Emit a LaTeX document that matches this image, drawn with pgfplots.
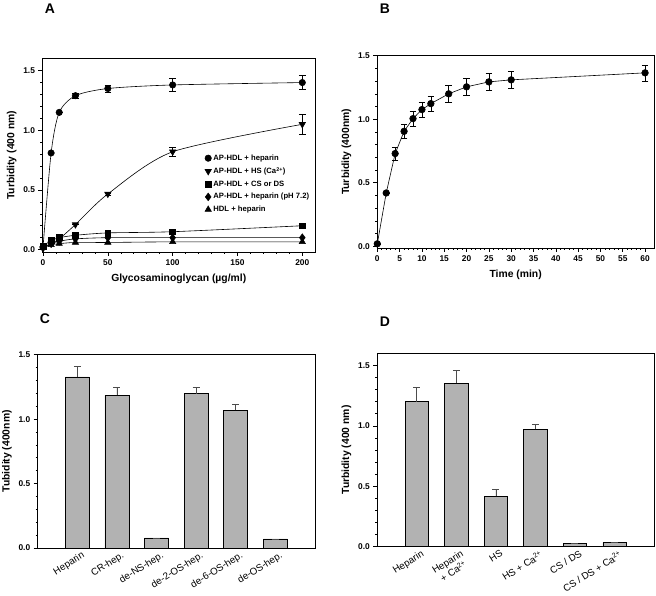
\documentclass[border=0pt]{standalone}
\usepackage{pgfplots}
\pgfplotsset{compat=1.18}
\usepackage{fontspec}
\setmainfont{Liberation Sans}
\definecolor{bargray}{RGB}{178,178,178}
\pgfplotsset{
  common/.style={
    scale only axis,
    axis line style={line width=0.7bp},
    tick style={line width=0.6bp, black},
    tick align=outside,
    major tick length=4bp,
    minor tick length=2bp,
    xtick pos=bottom, ytick pos=left,
    /pgf/number format/assume math mode=true,
    tick label style={font=\bfseries\fontsize{8.4}{10}\selectfont},
    label style={font=\bfseries\fontsize{10.4}{12}\selectfont},
    y tick label style={/pgf/number format/.cd, fixed, fixed zerofill, precision=1},
    minor y tick num=4,
  },
  errA/.style={error bars/.cd, y dir=both, y explicit,
    error mark options={mark size=3.3bp, line width=0.6bp, rotate=90, black},
    error bar style={line width=0.6bp, solid, black}},
  barax/.style={common, ybar, xmin=0, xmax=7, xtick={1,...,6},
    x tick style={draw=none},
    x tick label style={font=\fontsize{9.8}{9.8}\selectfont, rotate=32, anchor=north east, align=center, inner sep=1bp, xshift=5bp},
  },
}
\begin{document}
\begin{tikzpicture}
\useasboundingbox (0,0) rectangle (656bp,596bp);
% Panel A
\begin{axis}[common, at={(42.5bp,344bp)}, anchor=south west,
  width=272.5bp, height=193.3bp,
  xmin=-0.4, xmax=209.8, ymin=-0.02, ymax=1.6,
  xtick={0,50,100,150,200}, minor x tick num=4,
  ytick={0,0.5,1,1.5},
  xlabel={Glycosaminoglycan (µg/ml)}, ylabel={Turbidity (400 nm)},
  xlabel style={yshift=-2bp},
  legend style={at={(0.99,0.52)}, anchor=north east, draw=none, fill=none,
    font=\bfseries\fontsize{7.7}{9}\selectfont, row sep=1.6bp, inner sep=1bp},
  legend cell align=left,
  legend image code/.code={\draw[#1, only marks] plot coordinates {(0.2cm,0cm)};},
]
\addplot[black, line width=0.6bp, smooth, tension=0.45, mark=*, mark size=3.2bp, mark options={fill=black, solid}, errA] table[y error=e] {
x y e
0 0.02 0
6.25 0.81 0
12.5 1.15 0
25 1.29 0.02
50 1.35 0.03
100 1.38 0.055
200 1.40 0.06
};
\addlegendentry{AP-HDL + heparin}
\addplot[black, line width=0.6bp, smooth, tension=0.45, mark=triangle*, mark size=3.6bp, mark options={fill=black, rotate=180}, errA] table[y error=e] {
x y e
0 0.01 0
6.25 0.05 0
12.5 0.09 0
25 0.21 0
50 0.466 0.01
100 0.82 0.04
200 1.05 0.08
};
\addlegendentry{AP-HDL + HS (Ca\textsuperscript{2+})}
\addplot[black, line width=0.6bp, smooth, tension=0.45, mark=square*, mark size=2.9bp, mark options={fill=black}] table {
x y
0 0.03
6.25 0.075
12.5 0.10
25 0.12
50 0.14
100 0.15
200 0.20
};
\addlegendentry{AP-HDL + CS or DS}
\addplot[black, line width=0.6bp, smooth, tension=0.45, mark=diamond*, mark size=3.8bp, mark options={fill=black}] table {
x y
0 0.02
6.25 0.05
12.5 0.07
25 0.09
50 0.10
100 0.10
200 0.10
};
\addlegendentry{AP-HDL + heparin (pH 7.2)}
\addplot[black, line width=0.6bp, smooth, tension=0.45, mark=triangle*, mark size=3.6bp, mark options={fill=black}] table {
x y
0 0.02
6.25 0.04
12.5 0.05
25 0.06
50 0.06
100 0.065
200 0.065
};
\addlegendentry{HDL + heparin}
\end{axis}
% Panel B
\begin{axis}[common, at={(377.3bp,348bp)}, anchor=south west,
  width=276.7bp, height=192.3bp,
  xmin=0, xmax=62, ymin=-0.013, ymax=1.5,
  xtick={0,5,...,60}, minor x tick num=4,
  ytick={0,0.5,1,1.5},
  xlabel={Time (min)}, ylabel={Turbidity (400nm)},
  xlabel style={yshift=-2bp},
  clip=false,
]
\addplot[black, line width=0.6bp, mark=*, mark size=3.3bp, mark options={fill=black}, errA] table[y error=e] {
x y e
0 0.02 0
2 0.42 0
4 0.73 0.05
6 0.905 0.055
8 1.005 0.06
10 1.076 0.06
12 1.123 0.06
16 1.20 0.07
20 1.255 0.07
25 1.294 0.065
30 1.31 0.07
60 1.365 0.063
};
\end{axis}
% Panel C
\begin{axis}[barax, at={(37.7bp,48bp)}, anchor=south west,
  width=277.3bp, height=193.3bp,
  ymin=0, ymax=1.5, ytick={0,0.5,1,1.5},
  bar width=0.606,
  ylabel={Tubidity (400nm)},
  xticklabels={Heparin, CR-hep., de-NS-hep., de-2-OS-hep., de-6-OS-hep., de-OS-hep.},
]
\addplot[fill=bargray, draw=black, line width=0.6bp,
  error bars/.cd, y dir=plus, y explicit,
  error mark options={mark size=3.5bp, line width=0.6bp, rotate=90, black!70},
  error bar style={line width=0.7bp, black!70}] table[y error=e] {
x y e
1 1.327 0.083
2 1.184 0.062
3 0.078 0
4 1.197 0.052
5 1.070 0.042
6 0.070 0
};
\end{axis}
% Panel D
\begin{axis}[barax, at={(377.3bp,49.3bp)}, anchor=south west,
  width=276.7bp, height=193.4bp,
  ymin=0, ymax=1.6, ytick={0,0.5,1,1.5},
  bar width=0.59,
  ylabel={Turbidity (400 nm)},
  xticklabels={Heparin, {Heparin\\+ Ca\textsuperscript{2+}}, HS, HS + Ca\textsuperscript{2+}, CS / DS, CS / DS + Ca\textsuperscript{2+}},
]
\addplot[fill=bargray, draw=black, line width=0.6bp,
  error bars/.cd, y dir=plus, y explicit,
  error mark options={mark size=3.5bp, line width=0.6bp, rotate=90, black!70},
  error bar style={line width=0.7bp, black!70}] table[y error=e] {
x y e
1 1.199 0.12
2 1.351 0.11
3 0.417 0.06
4 0.970 0.04
5 0.028 0
6 0.036 0
};
\end{axis}
\node[font=\bfseries\fontsize{14}{16}\selectfont] at (50bp,587bp) {A};
\node[font=\bfseries\fontsize{14}{16}\selectfont] at (385bp,587bp) {B};
\node[font=\bfseries\fontsize{14}{16}\selectfont] at (45bp,277bp) {C};
\node[font=\bfseries\fontsize{14}{16}\selectfont] at (385bp,274bp) {D};
\end{tikzpicture}
\end{document}
